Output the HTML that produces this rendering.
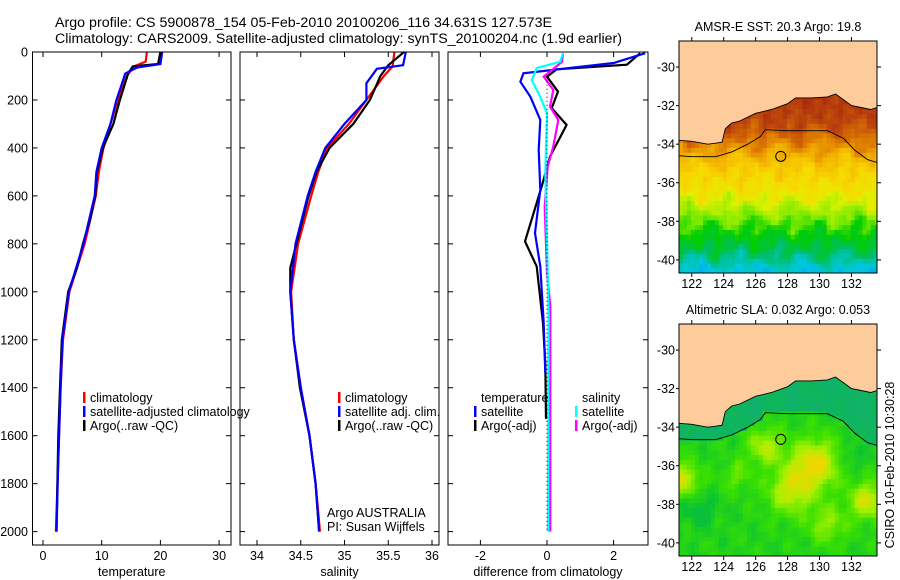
<!DOCTYPE html>
<html><head><meta charset="utf-8"><style>
html,body{margin:0;padding:0;background:#fff;}
svg{display:block;font-family:"Liberation Sans",sans-serif;}
text{fill:#000;}
</style></head><body>
<svg id="fig" width="900" height="580" viewBox="0 0 900 580" xmlns="http://www.w3.org/2000/svg">
<rect width="900" height="580" fill="#fff"/>
<text x="55" y="27" font-size="13.5" textLength="497" lengthAdjust="spacingAndGlyphs">Argo profile: CS 5900878_154 05-Feb-2010 20100206_116 34.631S 127.573E</text>
<text x="55" y="43" font-size="13.5" textLength="567" lengthAdjust="spacingAndGlyphs">Climatology: CARS2009. Satellite-adjusted climatology: synTS_20100204.nc (1.9d earlier)</text>
<g id="panels"></g>
<g id="maps"></g>
<text transform="translate(894,465) rotate(-90)" text-anchor="middle" font-size="12.5">CSIRO 10-Feb-2010 10:30:28</text>
</svg>
<script>
// ---------- data ----------
const depthTick=[0,200,400,600,800,1000,1200,1400,1600,1800,2000];
const tempTicks=[0,10,20,30];
const salTicks=[34,34.5,35,35.5,36];
const diffTicks=[-2,0,2];
// temperature profiles [depth, value]
const tempClimD=[0,40,60,100,200,300,400,500,600,800,1000,1200,1400,1700,2000];
const tempClimV=[17.7,17.5,15.5,14.3,12.8,11.5,10.3,9.5,9.0,7.1,4.5,3.4,3.0,2.6,2.2];
const tempSatD=[0,50,65,90,150,200,300,400,500,600,800,1000,1200,1400,1700,2000];
const tempSatV=[20.3,20.0,16.0,14.0,13.2,12.5,11.5,10.0,9.1,8.8,6.9,4.4,3.3,3.0,2.6,2.3];
const tempArgoD=[0,50,60,90,200,300,400,500,600,700,800,900,1000,1200,1400,1600,2000];
const tempArgoV=[20.0,19.6,15.3,14.5,13.1,12.0,10.2,9.2,8.9,8.0,6.8,5.8,4.3,3.2,2.9,2.6,2.3];
// salinity profiles
const salClimD=[0,60,100,200,300,400,500,600,800,1000,1200,1400,1600,1800,2000];
const salClimV=[35.57,35.55,35.45,35.25,35.05,34.8,34.7,34.62,34.47,34.39,34.42,34.5,34.6,34.67,34.72];
const salSatD=[0,55,70,130,200,300,400,500,600,800,1000,1200,1400,1600,1800,2000];
const salSatV=[35.7,35.67,35.37,35.25,35.25,35.0,34.78,34.67,34.58,34.44,34.38,34.42,34.5,34.6,34.67,34.71];
const salArgoD=[0,55,100,200,300,400,500,600,800,900,1000,1200,1400,1600,1800,2000];
const salArgoV=[35.68,35.5,35.41,35.29,35.1,34.83,34.68,34.59,34.45,34.38,34.38,34.42,34.49,34.6,34.67,34.71];
// differences from climatology
const dTempSatD=[5,46,89,124,187,283,408,575,755,895,1130,1340];
const dTempSatV=[2.95,2.0,-0.71,-0.8,-0.5,-0.2,-0.25,-0.2,-0.36,-0.2,-0.1,-0.05];
const dTempArgoD=[5,53,72,103,165,234,304,436,561,790,894,1130,1300,1530];
const dTempArgoV=[2.8,2.4,0.29,0,0.33,0.14,0.59,0.09,-0.16,-0.66,-0.31,-0.12,-0.05,-0.03];
const dSalSatD=[5,41,67,117,187,256,506,785,1100,1500,2000];
const dSalSatV=[0.48,0.39,-0.31,-0.46,-0.2,0,-0.05,0,0.05,0.04,0.03];
const dSalArgoD=[5,41,103,158,228,283,394,478,645,922,1060,1500,2000];
const dSalArgoV=[0.48,0.45,-0.1,0.19,0.09,0.34,0.19,0.02,-0.07,0,0.1,0.1,0.1];
// maps
const mapLonTicks=[122,124,126,128,130,132];
const mapLatTicks=[-30,-32,-34,-36,-38,-40];
const coastLon=[121.2,122,123,123.5,123.9,124.1,124.5,125,126,127,128,128.5,129.5,130.5,131,131.5,132,132.6,133.2,133.6];
const coastLat=[-33.8,-33.85,-34.0,-33.95,-33.9,-33.2,-32.9,-32.8,-32.4,-32.2,-31.9,-31.6,-31.6,-31.55,-31.4,-31.7,-32.0,-32.1,-32.2,-32.1];
const shelfLon=[121.2,122,123.5,124.5,125.5,126.3,126.6,128,130.5,131.5,132.2,133,133.6];
const shelfLat=[-34.6,-34.65,-34.65,-34.4,-34.0,-33.6,-33.25,-33.3,-33.3,-33.7,-34.3,-34.8,-34.95];
const argoLon=127.573, argoLat=-34.631;

const NS="http://www.w3.org/2000/svg";
function mk(tag,attrs,parent){const e=document.createElementNS(NS,tag);for(const k in attrs)e.setAttribute(k,attrs[k]);parent.appendChild(e);return e;}
const P=document.getElementById('panels');
const yD=d=>52+d*0.2398;
const PB=545;

function panel(name,x0,x1,xs,ticks,fmt,title,series){
  const g=mk('g',{},P);
  
  
  series.forEach(s=>{
    const pts=s.d.map((d,i)=>xs(s.v[i]).toFixed(1)+','+yD(d).toFixed(1)).join(' ');
    const l=mk('polyline',{points:pts,fill:'none',stroke:s.c,'stroke-width':2.2,'stroke-linejoin':'miter'},g);
    
    
  });
  const r=mk('rect',{x:x0,y:52,width:x1-x0,height:PB-52,fill:'none',stroke:'#000','stroke-width':1},g);
  
  
  ticks.forEach(t=>{
    const x=xs(t);
    mk('line',{x1:x,x2:x,y1:52,y2:57,stroke:'#000'},g);
    mk('line',{x1:x,x2:x,y1:PB,y2:PB-5,stroke:'#000'},g);
    const tx=mk('text',{x:x,y:560,'font-size':12.5,'text-anchor':'middle'},g);
    tx.textContent=fmt(t);
    
    
  });
  depthTick.forEach(d=>{
    const y=yD(d);
    mk('line',{x1:x0,x2:x0+5,y1:y,y2:y,stroke:'#000'},g);
    mk('line',{x1:x1,x2:x1-5,y1:y,y2:y,stroke:'#000'},g);
  });
  const tt=mk('text',{x:(x0+x1)/2,y:576,'font-size':12.5,'text-anchor':'middle'},g);
  tt.textContent=title;
  
  
  return g;
}
depthTick.forEach(d=>{
  const t=mk('text',{x:28,y:yD(d)+4.5,'font-size':12.5,'text-anchor':'end'},P);
  t.textContent=d;
  
  
});
const xT=v=>43+v*5.87, xS=v=>257+(v-34)*87.5, xDf=v=>547+v*33.3;
panel('temperature-panel',32.5,231,xT,tempTicks,t=>t,'temperature',[
  {d:tempClimD,v:tempClimV,c:'#f00',n:'temp-climatology-line'},
  {d:tempArgoD,v:tempArgoV,c:'#000',n:'temp-argo-line'},
  {d:tempSatD,v:tempSatV,c:'#00f',n:'temp-satellite-line'}]);
panel('salinity-panel',240,439,xS,salTicks,t=>t,'salinity',[
  {d:salClimD,v:salClimV,c:'#f00',n:'sal-climatology-line'},
  {d:salArgoD,v:salArgoV,c:'#000',n:'sal-argo-line'},
  {d:salSatD,v:salSatV,c:'#00f',n:'sal-satellite-line'}]);
const g3=panel('difference-panel',448,648,xDf,diffTicks,t=>t,'difference from climatology',[
  {d:dTempArgoD,v:dTempArgoV,c:'#000',n:'diff-temp-argo-line'},
  {d:dTempSatD,v:dTempSatV,c:'#00f',n:'diff-temp-satellite-line'},
  {d:dSalArgoD,v:dSalArgoV,c:'#f0f',n:'diff-sal-argo-line'},
  {d:dSalSatD,v:dSalSatV,c:'#0ff',n:'diff-sal-satellite-line'}]);
const zl=mk('line',{x1:xDf(0),x2:xDf(0),y1:yD(120),y2:yD(2000),stroke:'#000','stroke-dasharray':'1,3'},g3);



function legend(x,y,items,name){
  const g=mk('g',{},P);
  
  
  items.forEach((it,i)=>{
    const yy=y+i*14;
    if(it[1]){mk('rect',{x:x-7,y:yy-10,width:2.5,height:11,fill:it[1]},g);}
    const t=mk('text',{x:x,y:yy,'font-size':12.5},g);
    t.textContent=it[0];
    
    
  });
}
legend(90,402,[['climatology','#f00'],['satellite-adjusted climatology','#00f'],['Argo(..raw -QC)','#000']],'temperature-legend');
legend(345,402,[['climatology','#f00'],['satellite adj. clim.','#00f'],['Argo(..raw -QC)','#000']],'salinity-legend');
legend(481,402,[['temperature',null],['satellite','#00f'],['Argo(-adj)','#000']],'diff-temp-legend');
legend(582,402,[['salinity',null],['satellite','#0ff'],['Argo(-adj)','#f0f']],'diff-sal-legend');
legend(327,517,[['Argo AUSTRALIA',null],['PI: Susan Wijffels',null]],'data-credit');

// ---------- maps ----------
const M=document.getElementById('maps');
const LON0=121.2,LON1=133.6,MX0=679,MX1=877;
const lx=l=>MX0+(l-LON0)*(MX1-MX0)/(LON1-LON0);
function interp(xs,ys,x){if(x<=xs[0])return ys[0];for(let i=1;i<xs.length;i++){if(x<=xs[i]){const f=(x-xs[i-1])/(xs[i]-xs[i-1]);return ys[i-1]+f*(ys[i]-ys[i-1]);}}return ys[ys.length-1];}
function lerpC(stops,v){v=Math.max(0,Math.min(1,v));for(let i=1;i<stops.length;i++){if(v<=stops[i][0]){const a=stops[i-1],b=stops[i],f=(v-a[0])/(b[0]-a[0]);const c=[0,1,2].map(k=>Math.round(a[1][k]+f*(b[1][k]-a[1][k])));return 'rgb('+c.join(',')+')';}}return 'rgb('+stops[stops.length-1][1].join(',')+')';}
const sstStops=[[0,[0,140,255]],[0.12,[0,200,225]],[0.22,[0,190,100]],[0.32,[0,205,0]],[0.42,[130,235,0]],[0.52,[225,240,0]],[0.6,[248,215,0]],[0.7,[242,175,0]],[0.8,[225,128,0]],[0.9,[195,80,10]],[1,[165,35,15]]];
const slaStops=[[0,[16,176,110]],[0.25,[10,195,50]],[0.5,[60,225,0]],[0.75,[170,240,0]],[1,[240,215,0]]];
const sstLatProf=[-41,-40.5,-39.5,-38.5,-37.5,-36.5,-35,-34,-33,-31];
const sstValProf=[0.08,0.12,0.24,0.33,0.45,0.56,0.64,0.78,0.92,0.97];
function noise(lon,lat){
  return Math.sin(lon*2.37+lat*0.61)*Math.cos(lat*1.93-lon*0.47)+0.6*Math.sin(lon*4.1-lat*3.3+2)*Math.cos(lon*1.3+lat*2.7);
}
function sstVal(lon,lat){
  return interp(sstLatProf,sstValProf,lat+0.45*noise(lon,lat))+0.025*noise(lon*2,lat*2);
}
const slaBlobs=[[129.7,-35.9,1.5,0.6],[128.2,-37.3,1.4,0.45],[121.4,-36.7,1.0,0.5],[133,-37.8,1.1,0.5],[126.6,-35.0,1.1,0.4],[130.5,-39,1.2,0.3],[124.8,-36.5,0.9,0.2],[122.5,-38.3,1.0,-0.2],[132,-35.5,0.8,-0.15]];
function slaVal(lon,lat,shelf){
  if(lat>shelf)return 0.05+0.04*noise(lon,lat);
  let v=0.38+0.07*noise(lon*1.3,lat*1.3);
  slaBlobs.forEach(b=>{const d2=((lon-b[0])**2+((lat-b[1])*1.2)**2)/(b[2]*b[2]);v+=b[3]*Math.exp(-d2);});
  return v;
}
function drawMap(name,top,bottom,title,fn,stops){
  const g=mk('g',{},M);
  
  
  const latTop=-28.65, latBot=-40.68;
  const ly=la=>top+(latTop-la)*(bottom-top)/(latTop-latBot);
  const cid='clip-'+name;
  const cp=mk('clipPath',{id:cid},g);mk('rect',{x:MX0,y:top,width:MX1-MX0,height:bottom-top},cp);
  const cells=mk('g',{'clip-path':'url(#'+cid+')'},g);
  mk('rect',{x:MX0,y:top,width:MX1-MX0,height:bottom-top,fill:'#fecb9b'},cells);
  const step=0.25;
  for(let lon=LON0;lon<LON1;lon+=step){
    const coast=interp(coastLon,coastLat,lon+step/2), shelf=interp(shelfLon,shelfLat,lon+step/2);
    for(let lat=latBot;lat<coast;lat+=step){
      const v=fn(lon+step/2,lat+step/2,shelf);
      mk('rect',{x:lx(lon).toFixed(1),y:ly(lat+step).toFixed(1),width:4.3,height:5.1,fill:lerpC(stops,v)},cells);
    }
  }
  let pts=coastLon.map((l,i)=>lx(l).toFixed(1)+','+ly(coastLat[i]).toFixed(1));
  pts.push(lx(LON1)+','+top, lx(LON0)+','+top);
  const land=mk('polygon',{points:pts.join(' '),fill:'#fecb9b',stroke:'none'},cells);
  
  
  mk('polyline',{points:coastLon.map((l,i)=>lx(l).toFixed(1)+','+ly(coastLat[i]).toFixed(1)).join(' '),fill:'none',stroke:'#000','stroke-width':0.9},cells);
  const sh=mk('polyline',{points:shelfLon.map((l,i)=>lx(l).toFixed(1)+','+ly(shelfLat[i]).toFixed(1)).join(' '),fill:'none',stroke:'#000','stroke-width':0.9},cells);
  
  
  const c=mk('circle',{cx:lx(argoLon),cy:ly(argoLat),r:5,fill:'none',stroke:'#000','stroke-width':1},g);
  
  
  mk('rect',{x:MX0,y:top,width:MX1-MX0,height:bottom-top,fill:'none',stroke:'#000'},g);
  mapLonTicks.forEach(l=>{
    const x=lx(l);
    mk('line',{x1:x,x2:x,y1:top,y2:top-4,stroke:'#000'},g);
    mk('line',{x1:x,x2:x,y1:bottom,y2:bottom+4,stroke:'#000'},g);
    const t=mk('text',{x:x,y:bottom+15,'font-size':12.5,'text-anchor':'middle'},g);
    t.textContent=l;
    
    
  });
  mapLatTicks.forEach(la=>{
    const y=ly(la);
    mk('line',{x1:MX1,x2:MX1+4,y1:y,y2:y,stroke:'#000'},g);
    mk('line',{x1:MX0,x2:MX0-3,y1:y,y2:y,stroke:'#000'},g);
    const t=mk('text',{x:675,y:y+4.5,'font-size':12.5,'text-anchor':'end'},g);
    t.textContent=la;
    
    
  });
  const tt=mk('text',{x:(MX0+MX1)/2,y:top-10,'font-size':12.5,'text-anchor':'middle'},g);
  tt.textContent=title;
  
  
}
drawMap('sst-map',41,273,'AMSR-E SST: 20.3 Argo: 19.8',sstVal,sstStops);
drawMap('sla-map',324,556,'Altimetric SLA: 0.032 Argo: 0.053',slaVal,slaStops);
</script>
</body></html>
